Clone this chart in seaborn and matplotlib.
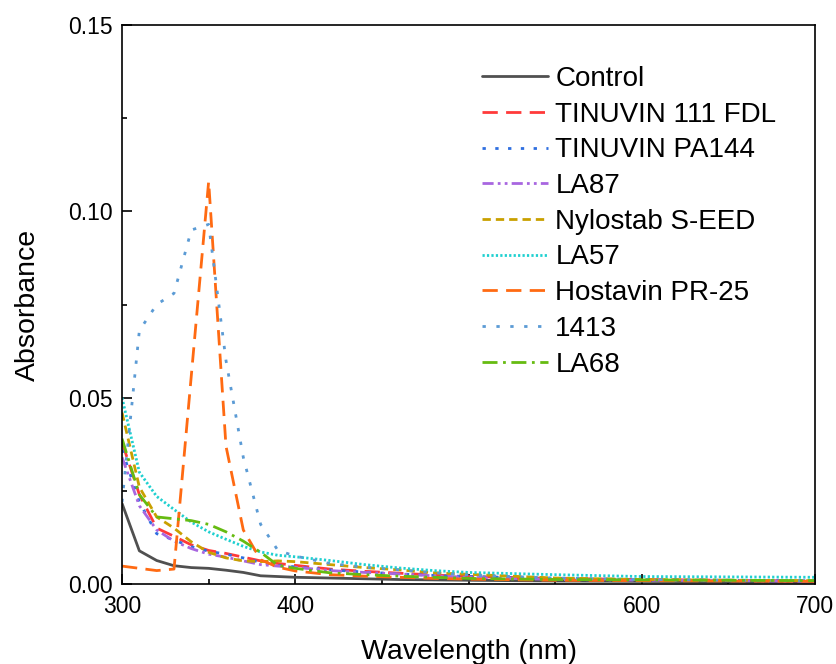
import matplotlib
matplotlib.use("Agg")
import matplotlib.pyplot as plt
import seaborn as sns

sns.set_theme(style="ticks")
plt.rcParams['font.family'] = ['Liberation Sans', 'DejaVu Sans']
plt.rcParams['text.color'] = 'black'
plt.rcParams['axes.labelcolor'] = 'black'
plt.rcParams['xtick.color'] = 'black'
plt.rcParams['ytick.color'] = 'black'

wavelength = [300, 310, 320, 330, 340, 350, 360, 370, 380, 390, 400,
              420, 440, 460, 480, 500, 550, 600, 650, 700]

control = [0.0216, 0.0089, 0.0063, 0.0049, 0.0044, 0.0042, 0.0037, 0.0031, 0.0022, 0.0020, 0.0018,
           0.0016, 0.0014, 0.0012, 0.0011, 0.0010, 0.0008, 0.0007, 0.0006, 0.0005]
tinuvin_111 = [0.038, 0.024, 0.0150, 0.0128, 0.0105, 0.0090, 0.0082, 0.0072, 0.0062, 0.0055, 0.0050,
               0.0040, 0.0034, 0.0029, 0.0024, 0.0020, 0.0015, 0.0012, 0.0010, 0.0008]
tinuvin_pa144 = [0.036, 0.022, 0.0135, 0.0118, 0.0100, 0.0088, 0.0080, 0.0070, 0.0058, 0.0050, 0.0046,
                 0.0038, 0.0032, 0.0027, 0.0023, 0.0020, 0.0014, 0.0011, 0.0010, 0.0008]
la87 = [0.034, 0.021, 0.0145, 0.0115, 0.0095, 0.0080, 0.0072, 0.0062, 0.0052, 0.0048, 0.0045,
        0.0036, 0.0031, 0.0027, 0.0022, 0.0018, 0.0012, 0.0010, 0.0009, 0.0007]
nylostab = [0.046, 0.026, 0.018, 0.015, 0.0113, 0.0085, 0.0070, 0.0062, 0.0060, 0.0062, 0.0060,
            0.0052, 0.0044, 0.0038, 0.0030, 0.0026, 0.0016, 0.0012, 0.0010, 0.0009]
la57 = [0.050, 0.030, 0.0235, 0.020, 0.0166, 0.014, 0.012, 0.0101, 0.0086, 0.0077, 0.0073,
        0.0063, 0.0052, 0.0043, 0.0036, 0.0031, 0.0025, 0.0020, 0.0019, 0.0018]
hostavin = [0.0048, 0.0042, 0.0036, 0.0040, 0.056, 0.108, 0.037, 0.0145, 0.0065, 0.0045, 0.0035,
            0.0025, 0.0021, 0.0018, 0.0015, 0.0013, 0.0010, 0.0009, 0.0008, 0.0007]
s1413 = [0.022, 0.068, 0.075, 0.078, 0.095, 0.0965, 0.060, 0.034, 0.016, 0.009, 0.0075,
         0.0055, 0.0045, 0.0038, 0.0030, 0.0024, 0.0016, 0.0012, 0.0010, 0.0009]
la68 = [0.039, 0.024, 0.018, 0.0175, 0.017, 0.016, 0.014, 0.0115, 0.0085, 0.0050, 0.0042,
        0.0030, 0.0025, 0.0021, 0.0018, 0.0015, 0.0012, 0.0011, 0.0010, 0.0009]

labels = ["Control", "TINUVIN 111 FDL", "TINUVIN PA144", "LA87", "Nylostab S-EED",
          "LA57", "Hostavin PR-25", "1413", "LA68"]
series = [control, tinuvin_111, tinuvin_pa144, la87, nylostab, la57, hostavin, s1413, la68]
colors = ["#505050", "#ff3a3a", "#2f6fe0", "#a866e0", "#c9a000",
          "#1fd0d0", "#ff6a12", "#5b9bd5", "#66bb11"]
styles = ["-", (0, (5.5, 3.0)), (0, (1.2, 3.4)), (0, (4, 1.5, 1, 1.5, 1, 1.5)), (0, (3.0, 1.8)),
          (0, (0.8, 0.8)), (0, (5.5, 3.0)), (0, (1.2, 3.8)), (0, (5.4, 2.0, 1.0, 2.0))]

fig = plt.figure(figsize=(8.37, 6.64), dpi=100)
ax = fig.add_axes([0.1458, 0.1205, 0.8279, 0.8418])

for lab, vals, col, st in zip(labels, series, colors, styles):
    sns.lineplot(x=wavelength, y=vals, ax=ax, color=col, linestyle=st, linewidth=2.0, label=lab)

ax.set_xlim(300, 700)
ax.set_ylim(0, 0.15)
ax.set_xticks([300, 400, 500, 600, 700])
ax.set_xticks([350, 450, 550, 650], minor=True)
ax.set_yticks([0.00, 0.05, 0.10, 0.15])
ax.set_yticks([0.025, 0.075, 0.125], minor=True)
ax.set_yticklabels(["0.00", "0.05", "0.10", "0.15"])
ax.tick_params(axis="both", which="major", direction="in", length=7, width=1.2,
               labelsize=16.5, colors="black")
ax.tick_params(axis="both", which="minor", direction="in", length=3.5, width=1.2)
ax.tick_params(axis="y", which="major", pad=7)
ax.tick_params(axis="x", which="major", pad=8)
for sp in ax.spines.values():
    sp.set_linewidth(1.2)
    sp.set_color("black")

ax.set_xlabel("Wavelength (nm)", fontsize=20.5, labelpad=15)
ax.set_ylabel("Absorbance", fontsize=20.5, labelpad=19)

ax.legend(loc="upper left", bbox_to_anchor=(0.519, 0.927), frameon=False, fontsize=20,
          handlelength=2.4, handletextpad=0.25, labelspacing=0.35, borderpad=0, borderaxespad=0)

fig.savefig("out.png", dpi=100)
